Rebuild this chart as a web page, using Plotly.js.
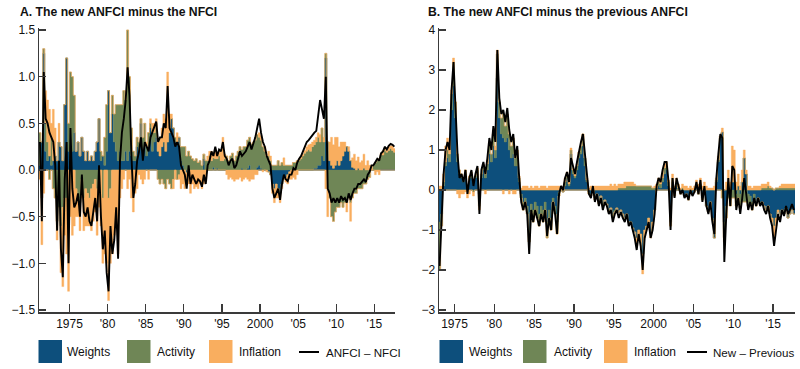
<!DOCTYPE html>
<html>
<head>
<meta charset="utf-8">
<script src="https://cdn.plot.ly/plotly-3.0.1.min.js"></script>
<style>
html,body{margin:0;padding:0;background:#fff;}
#chart{width:800px;height:369px;}
</style>
</head>
<body>
<div id="chart"></div>
<script>
// ---------------- DATA ----------------
// Panel A: quarterly, starting 1971 Q1
const startA = 1971;
const weightsA = [
0.05,0.3,1.25,0.2, 0.1,0.15,0.05,0.1, 0.15,0.1,0.3,0.25, 0.1,0.7,1.2,0.2,
0.1,0.2,0.4,0.2, 0.3,0.15,0.35,0.2, 0.1,0.2,0.1,0.15, 0.1,0.2,0.3,0.55,
0.1,0.15,0.05,0.2, 0.85,0.4,0.6,0.3, 0.2,0.1,0.2,0.1, 0.1,0.2,0.1,0.2,
0.15,0.1,0.1,0.25, 0.2,0.5,0.2,0.3, 0.15,0.25,0.45,0.2, 0.3,0.35,0.2,0.15,
0.25,0.3,0.2,0.3, 0.4,0.55,0.45,0.3, 0.3,0.35,0.1,0.05, 0.0,-0.03,0.0,0.0,
0.0,0.0,0.0,0.0, 0.0,0.0,0.12,0.0, 0.0,0.0,0.0,0.03, 0.0,0.02,0.0,0.0,
0.0,0.0,0.0,0.0, 0.0,0.0,0.0,0.0, 0.0,0.0,0.02,0.0, 0.0,0.02,0.05,0.0,
0.0,0.0,0.03,0.05, 0.02,0.0,0.0,0.0, -0.02,-0.05,-0.15,-0.2, -0.15,-0.2,-0.25,-0.15,
-0.1,-0.08,-0.05,-0.02, 0.0,0.0,0.0,0.0, 0.0,0.0,0.0,0.0, 0.0,0.0,0.0,0.0,
0.02,0.02,0.05,0.05, 0.15,0.1,1.2,0.3, 0.1,0.05,0.02,0.05, 0.1,0.05,0.1,0.15,
0.2,0.25,0.2,0.1, 0.03,0.02,0.0,0.02, 0.0,0.0,0.02,0.0, 0.0,0.0,0.0,0.0,
0.0,0.0,0.0,0.01, 0.01,0.01,0.01,0.01, 0.01,0.01,0.01];
const activityA = [
0.35,-0.3,0.05,0.3, 0.2,-0.1,0.3,-0.2, -0.3,-0.55,-0.4,-0.6, -0.4,-0.3,-0.3,0.3,
0.95,0.8,0.4,-0.2, -0.3,-0.35,-0.1,-0.3, -0.2,-0.25,-0.3,-0.2, -0.15,-0.1,-0.2,-0.1,
0.1,-0.3,0.3,0.5, -0.3,-0.2,0.2,0.3, 0.5,0.6,0.5,0.6, 0.75,0.55,1.4,0.8,
0.3,0.1,0.05,0.1, 0.1,0.05,0.15,0.2, 0.1,0.15,0.05,0.2, 0.1,0.15,-0.1,-0.15,
-0.1,-0.15,-0.2,-0.1, -0.15,-0.2,-0.1,0.05, -0.1,-0.05,0.15,0.2, 0.25,0.15,0.2,0.15,
0.12,0.1,0.12,0.08, 0.1,0.05,0.05,0.1, 0.1,0.15,0.1,0.1, 0.12,0.1,0.15,0.1,
0.1,0.12,0.15,0.1, 0.15,0.18,0.1,0.15, 0.2,0.25,0.2,0.25, 0.25,0.3,0.3,0.28,
0.3,0.32,0.35,0.3, 0.3,0.25,0.2,0.15, 0.15,0.1,0.05,0.05, 0.05,0.1,0.05,0.08,
0.05,0.05,0.05,0.05, 0.05,0.08,0.08,0.1, 0.1,0.12,0.15,0.18, 0.2,0.22,0.2,0.25,
0.25,0.28,0.3,0.25, 0.3,0.2,0.05,-0.2, -0.3,-0.5,-0.55,-0.45, -0.4,-0.4,-0.35,-0.4,
-0.35,-0.35,-0.3,-0.35, -0.3,-0.25,-0.25,-0.2, -0.2,-0.2,-0.15,-0.15, -0.1,-0.08,0.0,0.05,
0.08,0.1,0.12,0.15, 0.15,0.2,0.18,0.2, 0.22,0.2,0.18];
const inflationA = [
-0.1,-0.5,-0.25,0.35, 0.45,0.5,0.15,0.55, 0.3,-0.2,0.2,-0.5, -0.85,-0.4,-0.6,-1.3,
-0.5,-0.7,-0.6,-0.3, -0.2,-0.3,-0.2,-0.35, -0.4,-0.35,-0.3,-0.45, -0.4,-0.35,-0.5,-0.3,
-0.6,-0.7,-0.9,-1.0, -1.1,-0.8,-0.9,-0.7, -0.5,-0.9,-0.3,-0.2, -0.1,0.1,-0.2,-0.1,
-0.3,-0.45,-0.25,-0.2, -0.05,-0.1,-0.15,-0.1, 0.05,-0.1,0.05,0.1, 0.1,0.05,0.1,0.2,
0.2,0.3,0.35,0.75, 0.2,0.05,-0.1,-0.1, 0.1,-0.05,-0.2,-0.15, -0.2,-0.1,-0.15,-0.25,
-0.15,-0.2,-0.18,-0.2, -0.15,-0.2,-0.15,-0.12, 0.05,0.05,0.1,0.05, 0.1,0.05,0.05,0.1,
0.25,0.05,-0.05,-0.1, -0.08,-0.1,-0.12,-0.1, -0.1,-0.08,-0.12,-0.1, -0.08,-0.1,-0.12,-0.1,
-0.1,-0.05,-0.05,0.05, 0.05,-0.02,0.05,-0.02, 0.05,0.05,-0.1,-0.15, -0.15,-0.1,-0.1,-0.05,
0.08,-0.05,-0.1,-0.08, -0.1,-0.08,-0.1,-0.05, 0.02,0.03,0.02,0.03, 0.05,0.05,0.08,0.05,
0.05,0.05,0.05,0.08, 0.0,0.05,-0.2,-0.3, 0.2,0.3,0.25,0.3, 0.25,0.2,0.2,0.15,
0.1,-0.1,0.05,-0.2, 0.1,0.15,0.1,0.12, 0.08,0.1,0.15,0.05, 0.1,0.05,0.05,0.0,
-0.05,-0.02,-0.05,0.02, 0.05,0.03,0.02,0.04, 0.03,0.05,0.04];
const lineA = [
0.3,-0.55,1.05,0.55, 0.5,0.4,0.35,0.3, 0.05,-0.65,0.1,-0.85, -1.15,-0.1,0.3,-1.0,
0.45,-0.2,-0.4,-0.35, -0.25,-0.5,-0.05,-0.45, -0.5,-0.4,-0.55,-0.6, -0.45,-0.3,-0.55,0.05,
-0.5,-0.85,-0.65,-1.1, -1.3,-0.6,-0.9,-0.75, -0.4,-0.95,0.1,0.4, 0.55,0.75,1.1,0.8,
0.15,-0.3,-0.15,0.1, 0.2,0.35,0.1,0.3, 0.25,0.2,0.35,0.4, 0.45,0.52,0.3,0.35,
0.35,0.5,0.45,0.9, 0.45,0.4,0.35,0.25, 0.3,0.25,0.05,0.0, -0.05,-0.2,0.05,-0.15,
-0.05,-0.1,-0.15,-0.1, -0.12,-0.18,-0.05,-0.15, 0.05,0.1,0.2,0.15, 0.25,0.15,0.22,0.2,
0.3,0.15,0.12,0.05, 0.1,0.12,0.02,0.05, 0.12,0.2,0.15,0.18, 0.2,0.25,0.3,0.22,
0.28,0.35,0.45,0.55, 0.4,0.3,0.25,0.15, 0.1,0.05,-0.2,-0.3, -0.25,-0.2,-0.32,-0.15,
-0.05,-0.1,-0.12,-0.05, -0.05,0.02,0.0,0.08, 0.12,0.15,0.2,0.25, 0.3,0.32,0.35,0.38,
0.4,0.42,0.6,0.75, 0.65,0.55,1.0,-0.2, -0.25,-0.35,-0.3,-0.35, -0.3,-0.35,-0.28,-0.32,
-0.3,-0.35,-0.25,-0.32, -0.25,-0.2,-0.2,-0.15, -0.15,-0.12,-0.1,-0.13, -0.05,-0.02,0.05,0.05,
0.08,0.12,0.1,0.18, 0.2,0.25,0.22,0.26, 0.28,0.27,0.25];

// Panel B: quarterly, starting 1973 Q1
const startB = 1973;
const weightsB = [
-0.8,-0.6,0.1,0.6, 0.8,0.7,2.0,2.6, 1.8,0.7,0.4,0.3, 0.2,0.4,0.1,0.3,
0.3,0.2,0.3,0.4, -0.1,0.3,0.5,0.3, 0.5,0.9,0.7,1.1, 0.8,2.8,1.8,1.4,
1.3,1.2,1.3,1.0, 0.8,0.9,0.6,0.6, 0.2,-0.1,-0.3,-0.2, -0.4,-1.0,-0.35,-0.5,
-0.3,-0.4,-0.6,-0.4, -0.5,-0.3,-0.8,-0.5, -0.7,-0.2,-0.4,-0.8, -0.05,0.0,-0.05,0.1,
0.3,0.1,0.9,0.4, 0.3,0.5,0.8,0.9, 1.1,0.6,0.2,-0.05, -0.1,0.0,-0.2,-0.1,
-0.3,-0.15,-0.35,-0.25, -0.35,-0.5,-0.45,-0.6, -0.5,-0.45,-0.55,-0.5, -0.6,-0.7,-0.6,-0.8,
-0.8,-0.95,-1.05,-1.2, -1.0,-1.1,-1.6,-1.0, -0.9,-0.7,-1.1,-0.8, -0.5,0.0,0.1,0.05,
0.2,0.4,0.5,0.1, -0.8,0.2,-0.15,0.1, 0.0,-0.1,-0.05,-0.15, -0.1,-0.2,0.0,-0.1,
-0.05,0.1,-0.1,0.1, -0.2,0.0,-0.4,-0.5, -0.3,-0.7,-1.2,0.2, 0.7,1.3,1.45,-0.8,
-0.4,0.1,-0.1,0.2, 0.2,-0.1,0.1,-0.1, 0.2,0.8,0.4,-0.1, -0.15,-0.3,-0.1,-0.3,
-0.2,-0.3,-0.3,-0.4, -0.5,-0.4,-0.6,-0.7, -0.9,-0.7,-0.5,-0.6, -0.5,-0.6,-0.45,-0.7,
-0.6,-0.5,-0.6];
const activityB = [
-1.2,-0.3,0.1,0.1, 0.2,0.2,0.4,0.6, 0.4,0.2,0.1,0.1, 0.05,0.1,0.0,0.05,
0.1,-0.05,0.05,0.1, -0.3,0.1,0.1,0.1, 0.15,0.2,0.2,0.3, 0.2,0.6,0.4,0.4,
0.6,0.4,0.6,0.4, 0.3,0.4,0.2,0.4, 0.1,-0.1,-0.2,-0.1, -0.2,-0.3,-0.2,-0.3,
-0.2,-0.3,-0.3,-0.2, -0.3,-0.2,-0.4,-0.2, -0.3,-0.1,-0.2,-0.3, -0.1,0.0,0.0,0.1,
0.1,0.05,0.1,0.1, 0.05,0.1,0.15,0.2, 0.3,0.2,0.05,-0.05, -0.05,0.0,-0.05,0.0,
-0.05,0.0,-0.05,0.0, 0.0,-0.05,0.0,-0.1, -0.05,0.0,0.05,0.05, 0.05,0.05,0.1,0.1,
0.1,0.1,0.1,0.1, 0.1,0.1,0.1,0.1, 0.1,0.1,0.1,0.05, 0.05,0.05,0.1,0.1,
0.1,0.15,0.1,0.1, -0.1,0.1,0.0,0.1, 0.05,0.0,0.05,0.0, 0.0,-0.05,0.0,0.0,
0.0,0.05,0.0,0.05, -0.05,0.05,0.0,-0.05, 0.0,-0.05,0.0,0.05, 0.05,0.05,-0.2,-0.4,
-0.3,-0.2,-0.3,-0.2, -0.2,-0.3,-0.2,-0.35, -0.3,-0.3,-0.3,-0.3, -0.2,-0.2,-0.15,-0.1,
0.0,-0.05,0.05,0.05, 0.05,0.1,0.05,0.05, 0.0,0.05,0.05,0.05, 0.05,0.05,0.05,0.05,
0.05,0.05,0.05];
const inflationB = [
0.1,0.1,0.2,0.4, 0.3,0.2,0.1,0.1, 0.0,-0.1,-0.2,-0.1, -0.1,-0.05,-0.2,-0.1,
0.05,-0.1,0.0,0.05, -0.1,0.0,0.05,-0.1, 0.1,0.1,0.0,0.1, 0.1,0.1,0.0,0.0,
-0.1,0.0,0.0,-0.1, 0.0,-0.1,-0.1,0.0, 0.05,0.05,0.1,0.1, 0.1,0.05,0.1,0.05,
0.1,0.1,0.05,0.1, 0.1,0.1,0.05,0.1, 0.1,0.1,0.1,0.1, 0.1,0.1,0.05,0.1,
0.05,0.05,0.05,0.05, 0.05,0.05,0.0,0.0, 0.0,0.0,0.05,0.05, 0.1,0.1,0.1,0.1,
0.1,0.1,0.1,0.1, 0.1,0.1,0.15,0.1, 0.15,0.1,0.1,0.1, 0.1,0.15,0.1,0.1,
0.1,0.1,0.05,-0.2, -0.1,-0.2,-0.5,-0.2, -0.1,-0.1,-0.1,-0.1, 0.05,0.1,0.1,0.05,
0.1,0.1,0.1,0.05, 0.05,0.1,0.1,0.1, 0.1,0.05,0.1,0.1, 0.1,0.05,0.1,0.05,
0.1,0.1,0.15,0.15, 0.1,0.15,0.1,0.05, 0.05,0.05,0.1,0.05, 0.1,0.0,0.1,-0.1,
0.2,0.4,0.2,0.9, 0.8,0.2,0.3,0.1, 0.3,0.2,0.1,0.1, 0.1,0.05,0.1,0.1,
0.1,0.1,0.1,0.1, 0.1,0.1,0.05,-0.1, -0.3,-0.2,-0.05,0.05, 0.1,0.1,0.1,0.1,
0.1,0.1,0.1];
const lineB = [
-1.9,-0.9,0.4,1.0, 1.2,1.0,2.5,3.2, 2.2,0.9,0.3,0.4, 0.2,0.5,-0.1,0.3,
0.5,0.1,0.4,0.6, -0.6,0.5,0.7,0.4, 0.8,1.3,1.0,1.6, 1.2,3.5,2.3,1.9,
2.0,1.7,2.05,1.5, 1.2,1.4,0.8,1.1, 0.3,-0.3,-0.5,-0.3, -0.6,-1.6,-0.5,-0.8,
-0.5,-0.7,-0.9,-0.6, -0.8,-0.5,-1.15,-0.7, -1.0,-0.3,-0.6,-1.1, -0.1,0.1,0.0,0.3,
0.45,0.2,0.8,0.6, 0.4,0.7,1.0,1.2, 1.4,0.9,0.3,-0.1, -0.2,0.1,-0.3,-0.1,
-0.4,-0.2,-0.5,-0.3, -0.4,-0.6,-0.5,-0.8, -0.6,-0.5,-0.7,-0.55, -0.7,-0.8,-0.6,-0.9,
-0.8,-1.0,-1.2,-1.5, -1.1,-1.4,-2.0,-1.2, -1.0,-0.8,-1.2,-1.0, -0.6,0.1,0.3,0.2,
0.5,0.7,0.7,0.2, -1.0,0.3,-0.2,0.3, 0.1,-0.1,0.0,-0.2, -0.1,-0.25,0.0,-0.15,
-0.05,0.2,-0.1,0.25, -0.3,0.1,-0.4,-0.6, -0.3,-0.8,-1.1,0.3, 0.9,1.4,1.3,-1.8,
-0.6,0.3,-0.4,0.6, 0.5,-0.5,-0.2,-0.6, -0.2,0.3,-0.1,-0.5, -0.3,-0.5,-0.2,-0.4,
-0.2,-0.4,-0.3,-0.5, -0.6,-0.4,-0.7,-0.9, -1.4,-1.0,-0.6,-0.8, -0.5,-0.65,-0.4,-0.6,
-0.5,-0.35,-0.5];

const tickYears = [1975,1980,1985,1990,1995,2000,2005,2010,2015];
const tickLabels = ["1975","'80","'85","'90","'95","2000","'05","'10","'15"];
const yTicksA = [-1.5,-1.0,-0.5,0,0.5,1.0,1.5];
const yTicksB = [-3,-2,-1,0,1,2,3,4];
const seriesNames = ["Weights","Activity","Inflation"];
const lineNames = ["ANFCI \u2013 NFCI","New \u2013 Previous"];
const titles = ["A. The new ANFCI minus the NFCI","B. The new ANFCI minus the previous ANFCI"];

// ---------------- STYLE ----------------
const colors = ["#0d4f7c","#6f8656","#f9ae5f"];
const W = 800, H = 369;
const px = v => v / W;
const py = v => 1 - v / H;
const FONT = "Liberation Sans, Arial, sans-serif";
const STEP = 0.25;

function quarters(start, n){ const a=[]; for(let i=0;i<n;i++) a.push(start + i*STEP + STEP/2); return a; }

const xA = quarters(startA, lineA.length);
const xB = quarters(startB, lineB.length);

const traces = [];
// stacked step-areas (positive parts stack upward, negative parts downward, in series order)
function addPanel(x, comps, line, xa, ya){
  const n = x.length;
  const posBase = new Array(n).fill(0), negBase = new Array(n).fill(0);
  comps.forEach((vals,k)=>{
    ['pos','neg'].forEach(side=>{
      const base = side==='pos' ? posBase : negBase;
      const top = [];
      for(let i=0;i<n;i++){
        const v = vals[i];
        const add = side==='pos' ? Math.max(v,0) : Math.min(v,0);
        top.push(base[i] + add);
      }
      const px_ = [], py_ = [];
      for(let i=0;i<n;i++){ px_.push(x[i]-STEP/2, x[i]+STEP/2); py_.push(top[i], top[i]); }
      for(let i=n-1;i>=0;i--){ px_.push(x[i]+STEP/2, x[i]-STEP/2); py_.push(base[i], base[i]); }
      traces.push({type:'scatter',mode:'lines',x:px_,y:py_,xaxis:xa,yaxis:ya,fill:'toself',
        fillcolor:colors[k],line:{width:0.4,color:colors[k]},name:seriesNames[k],showlegend:false,hoverinfo:'skip'});
      for(let i=0;i<n;i++) base[i] = top[i];
    });
  });
  traces.push({type:'scatter',mode:'lines',x:x,y:line,xaxis:xa,yaxis:ya,line:{color:'#000',width:1.9},showlegend:false,hoverinfo:'skip'});
}
addPanel(xA,[weightsA,activityA,inflationA],lineA,'x','y');
addPanel(xB,[weightsB,activityB,inflationB],lineB,'x2','y2');

const axColor = '#3a3a3a';
const xCommon = {showgrid:false,zeroline:false,showline:true,linecolor:axColor,linewidth:1.5,
  ticks:'inside',ticklen:8,tickwidth:1.2,tickcolor:axColor,tickmode:'array',tickvals:tickYears,ticktext:tickLabels,
  tickfont:{family:FONT,size:12,color:'#111'}};
const yCommon = {showgrid:false,zeroline:false,showline:true,linecolor:axColor,linewidth:1.5,
  ticks:'inside',ticklen:7,tickwidth:1.2,tickcolor:axColor,tickmode:'array',
  tickfont:{family:FONT,size:12,color:'#111'}};

const yDom = [py(312), py(28)];

const layout = {
  width:W,height:H,margin:{l:0,r:0,t:0,b:0},paper_bgcolor:'#fff',plot_bgcolor:'#fff',
  showlegend:false,hovermode:false,
  xaxis:Object.assign({},xCommon,{domain:[px(39),px(395)],range:[1971.0,2017.7],anchor:'y'}),
  yaxis:Object.assign({},yCommon,{domain:yDom,range:[-1.522,1.522],tickvals:yTicksA,tickformat:'.1f',anchor:'x'}),
  xaxis2:Object.assign({},xCommon,{domain:[px(439),px(795)],range:[1973.05,2017.75],anchor:'y2'}),
  yaxis2:Object.assign({},yCommon,{domain:yDom,range:[-3.05,4.05],tickvals:yTicksB,tickformat:'d',anchor:'x2'}),
  shapes:[], annotations:[]
};

// titles
layout.annotations.push({xref:'paper',yref:'paper',x:px(18),y:py(12),xanchor:'left',yanchor:'middle',showarrow:false,
  text:'<b>'+titles[0]+'</b>',font:{family:FONT,size:12.2,color:'#111'}});
layout.annotations.push({xref:'paper',yref:'paper',x:px(426),y:py(12),xanchor:'left',yanchor:'middle',showarrow:false,
  text:'<b>'+titles[1]+'</b>',font:{family:FONT,size:12.2,color:'#111'}});

// custom legends
const legA = {boxes:[38.5,127,209], texts:[65,155,237], line:[299,319], lineText:324};
const legB = {boxes:[439.5,523,604], texts:[467,552,632], line:[687,707], lineText:711};
[[legA,lineNames[0]],[legB,lineNames[1]]].forEach(([lg,ln])=>{
  lg.boxes.forEach((bx,k)=>{
    layout.shapes.push({type:'rect',xref:'paper',yref:'paper',x0:px(bx),x1:px(bx+23.5),y0:py(363),y1:py(340),
      fillcolor:colors[k],line:{width:0}});
    layout.annotations.push({xref:'paper',yref:'paper',x:px(lg.texts[k]),y:py(352),xanchor:'left',yanchor:'middle',
      showarrow:false,text:seriesNames[k],font:{family:FONT,size:12,color:'#111'}});
  });
  layout.shapes.push({type:'line',xref:'paper',yref:'paper',x0:px(lg.line[0]),x1:px(lg.line[1]),y0:py(352),y1:py(352),
    line:{color:'#000',width:2}});
  layout.annotations.push({xref:'paper',yref:'paper',x:px(lg.lineText),y:py(352),xanchor:'left',yanchor:'middle',
    showarrow:false,text:ln,font:{family:FONT,size:11.6,color:'#111'}});
});

Plotly.newPlot('chart',traces,layout,{staticPlot:true,displayModeBar:false});
</script>
</body>
</html>
